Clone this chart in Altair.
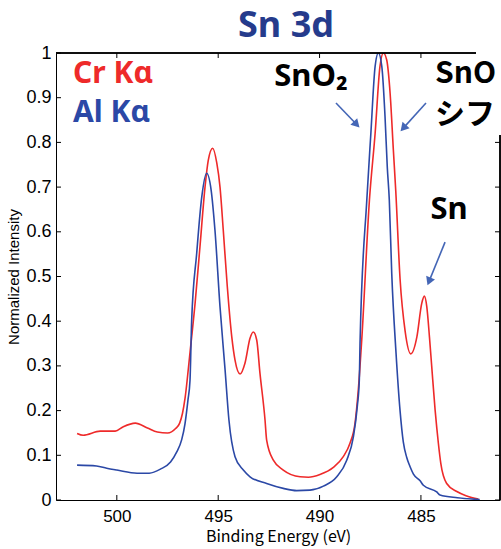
import altair as alt
import pandas as pd

# ---- data ----
cr_ev = [501.96, 501.66, 500.82, 500.08, 499.68, 499.09, 498.49, 498.0, 497.5, 497.1,
         496.90, 496.76, 496.64, 496.39, 496.14, 495.90, 495.65, 495.49, 495.27, 495.07,
         494.91, 494.75, 494.55, 494.33, 494.17, 493.92, 493.68, 493.43, 493.27, 493.10,
         492.94, 492.69, 492.61, 492.28, 491.79, 490.96, 490.55, 489.98, 489.32, 488.83,
         488.50, 488.25, 488.09, 487.92, 487.54, 487.26, 487.02, 486.85, 486.69, 486.52,
         486.36, 486.24, 486.03, 485.78, 485.50, 485.20, 484.96, 484.83, 484.71, 484.58,
         484.47, 484.30, 484.14, 484.02, 483.73, 483.23, 482.74, 482.17]
cr_int = [0.149, 0.145, 0.154, 0.154, 0.164, 0.172, 0.161, 0.152, 0.150, 0.160,
          0.172, 0.194, 0.226, 0.330, 0.440, 0.566, 0.700, 0.760, 0.787, 0.754,
          0.700, 0.604, 0.477, 0.365, 0.313, 0.282, 0.306, 0.362, 0.376, 0.358,
          0.284, 0.179, 0.134, 0.089, 0.067, 0.052, 0.051, 0.057, 0.073, 0.097,
          0.127, 0.172, 0.246, 0.358, 0.671, 0.820, 0.970, 1.000, 0.985, 0.910,
          0.783, 0.690, 0.495, 0.378, 0.327, 0.365, 0.440, 0.456, 0.432, 0.365,
          0.300, 0.201, 0.127, 0.082, 0.037, 0.019, 0.009, 0.002]

al_ev = [501.96, 501.0, 500.5, 500.0, 499.0, 498.4, 497.85, 497.35, 497.05, 496.8,
         496.64, 496.49, 496.39, 496.31, 496.06, 495.81, 495.57, 495.35, 495.16, 494.91,
         494.66, 494.47, 494.17, 493.76, 493.43, 492.61, 491.79, 491.13, 490.47, 489.81,
         489.15, 488.66, 488.33, 488.14, 488.04, 488.0, 487.67, 487.47, 487.26, 487.10,
         486.93, 486.77, 486.66, 486.56, 486.44, 486.23, 486.03, 485.87, 485.70, 485.54,
         485.37, 485.04, 484.88, 484.22, 484.06, 483.2, 482.1]
al_int = [0.078, 0.076, 0.071, 0.067, 0.060, 0.060, 0.069, 0.085, 0.107, 0.135,
          0.170, 0.224, 0.268, 0.400, 0.552, 0.678, 0.731, 0.694, 0.604, 0.432,
          0.291, 0.179, 0.097, 0.067, 0.052, 0.037, 0.026, 0.021, 0.022, 0.031,
          0.052, 0.089, 0.142, 0.209, 0.268, 0.358, 0.671, 0.820, 0.970, 1.000,
          0.970, 0.857, 0.745, 0.671, 0.507, 0.330, 0.200, 0.130, 0.095, 0.075,
          0.058, 0.043, 0.033, 0.018, 0.011, 0.005, 0.001]

x_ticks = [500, 495, 490, 485]
y_ticks = [0, 0.1, 0.2, 0.3, 0.4, 0.5, 0.6, 0.7, 0.8, 0.9, 1.0]

series_names = ["Cr Kα", "Al Kα"]
series_colors = ["#ee2a2a", "#2b48a6"]

# annotation texts and their places (data units)
label_text = ["Cr Kα", "Al Kα"]
label_ev = [502.16, 502.16]
label_int = [0.953, 0.866]

ann_text = ["SnO₂", "Sn"]
ann_ev = [490.42, 483.61]
ann_int = [0.946, 0.649]

shift_text = ["SnO", "シフ"]
shift_ev = [484.30, 484.30]
shift_int = [0.953, 0.862]

arrow_ev = [489.19, 484.75, 483.81]
arrow_int = [0.888, 0.888, 0.577]
head_ev = [488.17, 485.87, 484.60]
head_int = [0.840, 0.832, 0.489]
head_angle = [136, 222, 202]

# ---- tables ----
curves = pd.concat([
    pd.DataFrame({"ev": cr_ev, "val": cr_int, "series": series_names[0], "order": range(len(cr_ev))}),
    pd.DataFrame({"ev": al_ev, "val": al_int, "series": series_names[1], "order": range(len(al_ev))}),
])
xt = pd.DataFrame({"t": x_ticks})
yt = pd.DataFrame({"t": y_ticks})
labels = pd.DataFrame({"text": label_text, "ev": label_ev, "val": label_int, "series": series_names})
anns = pd.DataFrame({"text": ann_text, "ev": ann_ev, "val": ann_int})
shifts = pd.DataFrame({"text": shift_text, "ev": shift_ev, "val": shift_int})
arrows = pd.DataFrame({"ev": arrow_ev, "val": arrow_int, "ev2": head_ev, "val2": head_int,
                       "angle": head_angle})

W, H = 444, 447
xscale = alt.Scale(domain=[503, 481.1], nice=False, zero=False)
yscale = alt.Scale(domain=[0, 1], nice=False, zero=False)
cscale = alt.Scale(domain=series_names, range=series_colors)

lines = alt.Chart(curves).mark_line(strokeWidth=1.6, interpolate="monotone", clip=True).encode(
    x=alt.X("ev:Q", scale=xscale,
            axis=alt.Axis(values=x_ticks, tickSize=0, grid=False, domainColor="black",
                          domainWidth=1, labelFont="Liberation Sans", labelFontSize=17,
                          labelColor="black", labelPadding=8, format="d",
                          title="Binding Energy (eV)", titleFont="Noto Sans CJK JP",
                          titleFontSize=16, titleFontWeight="normal", titleColor="black",
                          titlePadding=4)),
    y=alt.Y("val:Q", scale=yscale,
            axis=alt.Axis(values=y_ticks, tickSize=0, grid=False, domainColor="black",
                          domainWidth=1, labelFont="Liberation Sans", labelFontSize=18,
                          labelColor="black", labelPadding=5, format=".1~f",
                          title="Normalized Intensity", titleFont="Liberation Sans",
                          titleFontSize=15, titleFontWeight="normal", titleColor="black",
                          titlePadding=4)),
    color=alt.Color("series:N", scale=cscale, legend=None),
    order="order:Q",
    detail="series:N",
)

frame_top = alt.Chart(xt).mark_rule(color="black", strokeWidth=1).encode(
    x=alt.value(0), x2=alt.value(W), y=alt.value(0))
frame_right = alt.Chart(xt).mark_rule(color="black", strokeWidth=1).encode(
    x=alt.value(W), y=alt.value(0), y2=alt.value(H))

tick_b = alt.Chart(xt).mark_rule(color="black").encode(
    x=alt.X("t:Q", scale=xscale), y=alt.value(H - 5), y2=alt.value(H))
tick_t = alt.Chart(xt).mark_rule(color="black").encode(
    x=alt.X("t:Q", scale=xscale), y=alt.value(0), y2=alt.value(5))
tick_l = alt.Chart(yt).mark_rule(color="black").encode(
    y=alt.Y("t:Q", scale=yscale), x=alt.value(0), x2=alt.value(5))
tick_r = alt.Chart(yt).mark_rule(color="black").encode(
    y=alt.Y("t:Q", scale=yscale), x=alt.value(W - 5), x2=alt.value(W))

white = alt.Chart(xt).mark_rect(color="white").encode(
    x=alt.value(420), x2=alt.value(W + 2), y=alt.value(-10), y2=alt.value(82))

legend_txt = alt.Chart(labels).mark_text(font="Noto Sans", fontWeight="bold", fontSize=30,
                                         align="left", baseline="middle").encode(
    x=alt.X("ev:Q", scale=xscale), y=alt.Y("val:Q", scale=yscale), text="text:N",
    color=alt.Color("series:N", scale=cscale, legend=None))

ann_txt = alt.Chart(anns).mark_text(font="Noto Sans", fontWeight="bold", fontSize=31,
                                    align="center", baseline="middle", color="black").encode(
    x=alt.X("ev:Q", scale=xscale), y=alt.Y("val:Q", scale=yscale), text="text:N")

shift_txt = alt.Chart(shifts).mark_text(font="Noto Sans CJK JP", fontWeight="bold", fontSize=30,
                                        align="left", baseline="middle", color="black").encode(
    x=alt.X("ev:Q", scale=xscale), y=alt.Y("val:Q", scale=yscale), text="text:N")

arrow_line = alt.Chart(arrows).mark_rule(color="#4466b6", strokeWidth=1.6).encode(
    x=alt.X("ev:Q", scale=xscale), y=alt.Y("val:Q", scale=yscale),
    x2="ev2:Q", y2="val2:Q")
arrow_head = alt.Chart(arrows).mark_point(shape="triangle-up", filled=True, opacity=1,
                                          color="#4466b6", size=90).encode(
    x=alt.X("ev2:Q", scale=xscale), y=alt.Y("val2:Q", scale=yscale),
    angle=alt.Angle("angle:Q", scale=None))

chart = alt.layer(
    lines, frame_top, frame_right, tick_b, tick_t, tick_l, tick_r,
    white, legend_txt, ann_txt, shift_txt, arrow_line, arrow_head
).properties(
    width=W, height=H,
    title=alt.TitleParams("Sn 3d", font="Noto Sans", fontWeight="bold", fontSize=36,
                          color="#253b8c", anchor="middle", dx=8, offset=-2),
    autosize=alt.AutoSizeParams(type="none"),
    padding={"left": 56, "top": 53, "right": 1, "bottom": 49},
).configure(background="white").configure_view(stroke=None)

chart.save("out.html", embed_options={"renderer": "svg", "actions": False})
